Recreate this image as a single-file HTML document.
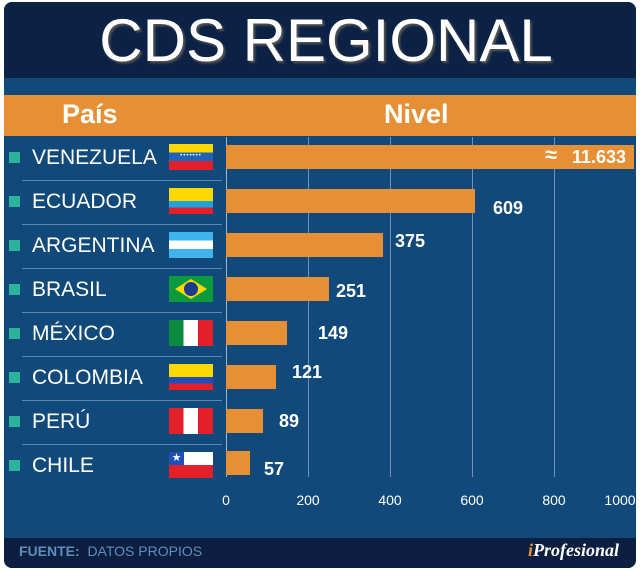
<!DOCTYPE html>
<html><head><meta charset="utf-8"><style>
body{margin:0;background:#fff;}
#c{position:relative;width:640px;height:571px;overflow:hidden;font-family:"Liberation Sans",Arial,sans-serif;}
.abs{position:absolute;}
.lbl{color:#fff;font-size:21px;left:32px;}
.sq{left:9px;width:11px;height:11px;background:#2bb39b;}
.sep{left:22px;width:200px;height:1px;background:#5d86b0;}
.bar{left:226px;height:24px;background:#e68f35;}
.val{color:#fff;font-weight:bold;font-size:18px;}
.flag{left:169px;width:44px;height:26px;overflow:hidden;}
.tick{color:#fff;font-size:14px;top:492px;width:40px;text-align:center;}
.grid{top:137px;width:1px;height:340px;background:#6f93b8;}
</style></head><body><div id="c">
<div class="abs" style="left:4px;top:2px;width:632px;height:566px;background:#114a7a;border-radius:8px;"></div>
<div class="abs" style="left:4px;top:2px;width:632px;height:76px;background:#0c2245;border-radius:8px 8px 0 0;"></div>
<div class="abs" style="left:0;top:6px;width:652px;text-align:center;color:#fff;font-size:60px;line-height:70px;text-shadow:2px 2px 2px #555;">CDS REGIONAL</div>
<div class="abs" style="left:4px;top:95px;width:632px;height:41px;background:#e68f35;"></div>
<div class="abs" style="left:62px;top:99px;color:#fff;font-weight:bold;font-size:27px;">País</div>
<div class="abs" style="left:384px;top:99px;color:#fff;font-weight:bold;font-size:27px;">Nivel</div>
<div class="abs" style="left:4px;top:538px;width:632px;height:30px;background:#0c1f40;border-radius:0 0 8px 8px;"></div>
<div class="abs" style="left:19px;top:543px;color:#5f8dbd;font-size:14px;"><b>FUENTE:</b>&nbsp; DATOS PROPIOS</div>
<div class="abs" style="left:528px;top:540px;color:#fff;font-family:'Liberation Serif',serif;font-style:italic;font-weight:bold;font-size:18px;"><span style="color:#e68f35">i</span>Profesional</div>

<div class="abs grid" style="left:226px;background:#9bb3cc;"></div>
<div class="abs grid" style="left:308px;"></div>
<div class="abs grid" style="left:390px;"></div>
<div class="abs grid" style="left:472px;"></div>
<div class="abs grid" style="left:554px;"></div>
<div class="abs tick" style="left:206px;">0</div>
<div class="abs tick" style="left:288px;">200</div>
<div class="abs tick" style="left:370px;">400</div>
<div class="abs tick" style="left:452px;">600</div>
<div class="abs tick" style="left:534px;">800</div>
<div class="abs tick" style="left:600px;">1000</div>

<div class="abs sq" style="top:152px"></div><div class="abs lbl" style="top:146px">VENEZUELA</div>
<div class="abs flag" style="top:144px;background:linear-gradient(#ffd800 0 33%,#1e63b8 33% 66%,#e3202a 66%);"><div style="color:#fff;font-size:6px;text-align:center;margin-top:9px;letter-spacing:1px">•••••••</div></div>
<div class="abs bar" style="top:145px;width:408px;"></div>
<div class="abs" style="left:545px;top:142px;color:#fff;font-weight:bold;font-size:22px;">&#8776;</div>
<div class="abs val" style="left:572px;top:147px;">11.633</div>
<div class="abs sep" style="top:180px"></div>

<div class="abs sq" style="top:196px"></div><div class="abs lbl" style="top:190px">ECUADOR</div>
<div class="abs flag" style="top:188px;background:linear-gradient(#ffd800 0 50%,#1ea3e0 50% 75%,#e3202a 75%);"></div>
<div class="abs bar" style="top:189px;width:249px;"></div>
<div class="abs val" style="left:493px;top:198px;">609</div>
<div class="abs sep" style="top:224px"></div>

<div class="abs sq" style="top:240px"></div><div class="abs lbl" style="top:234px">ARGENTINA</div>
<div class="abs flag" style="top:232px;background:linear-gradient(#3fb3ec 0 33%,#fff 33% 66%,#3fb3ec 66%);"></div>
<div class="abs bar" style="top:233px;width:157px;"></div>
<div class="abs val" style="left:395px;top:231px;">375</div>
<div class="abs sep" style="top:268px"></div>

<div class="abs sq" style="top:284px"></div><div class="abs lbl" style="top:278px">BRASIL</div>
<div class="abs flag" style="top:276px;background:#0b9a3c;"><div style="position:absolute;left:6px;top:3px;width:32px;height:20px;background:#ffd800;clip-path:polygon(50% 0,100% 50%,50% 100%,0 50%)"></div><div style="position:absolute;left:15px;top:6px;width:14px;height:14px;border-radius:50%;background:#1a3c8c"></div></div>
<div class="abs bar" style="top:277px;width:103px;"></div>
<div class="abs val" style="left:336px;top:281px;">251</div>
<div class="abs sep" style="top:312px"></div>

<div class="abs sq" style="top:328px"></div><div class="abs lbl" style="top:322px">MÉXICO</div>
<div class="abs flag" style="top:320px;background:linear-gradient(90deg,#0a8a3c 0 33%,#fff 33% 66%,#e3202a 66%);"></div>
<div class="abs bar" style="top:321px;width:61px;"></div>
<div class="abs val" style="left:318px;top:323px;">149</div>
<div class="abs sep" style="top:356px"></div>

<div class="abs sq" style="top:372px"></div><div class="abs lbl" style="top:366px">COLOMBIA</div>
<div class="abs flag" style="top:364px;background:linear-gradient(#ffd800 0 50%,#1e4fb8 50% 75%,#e3202a 75%);"></div>
<div class="abs bar" style="top:365px;width:50px;"></div>
<div class="abs val" style="left:292px;top:362px;">121</div>
<div class="abs sep" style="top:400px"></div>

<div class="abs sq" style="top:416px"></div><div class="abs lbl" style="top:410px">PERÚ</div>
<div class="abs flag" style="top:408px;background:linear-gradient(90deg,#e3202a 0 33%,#fff 33% 66%,#e3202a 66%);"></div>
<div class="abs bar" style="top:409px;width:37px;"></div>
<div class="abs val" style="left:279px;top:411px;">89</div>
<div class="abs sep" style="top:444px"></div>

<div class="abs sq" style="top:460px"></div><div class="abs lbl" style="top:454px">CHILE</div>
<div class="abs flag" style="top:452px;background:linear-gradient(#fff 0 50%,#e3202a 50%);"><div style="position:absolute;left:0;top:0;width:15px;height:13px;background:#1e4fb8;color:#fff;font-size:11px;text-align:center;line-height:13px">★</div></div>
<div class="abs bar" style="top:451px;width:24px;"></div>
<div class="abs val" style="left:264px;top:459px;">57</div>
</div></body></html>
